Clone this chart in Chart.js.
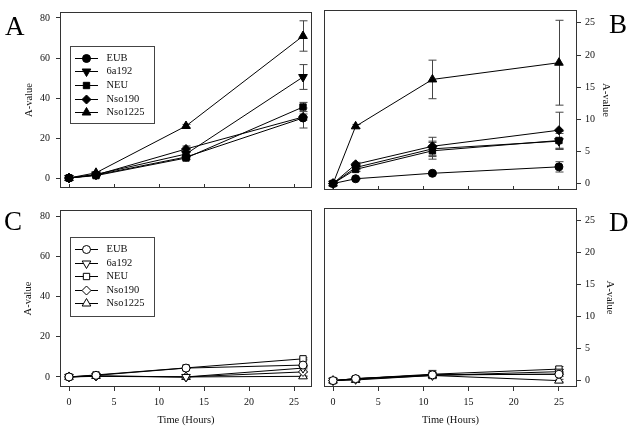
<!DOCTYPE html>
<html>
<head>
<meta charset="utf-8">
<script src="https://cdn.jsdelivr.net/npm/chart.js@4.4.0/dist/chart.umd.min.js"></script>
<style>
  body { margin: 0; background: #fff; }
  #wrap { position: relative; width: 632px; height: 429px; overflow: hidden; }
  #wrap canvas { position: absolute; }
  .tag { position: absolute; font: 27px/27px "Liberation Serif", "Times New Roman", serif; color: #000; }
</style>
</head>
<body>
<div id="wrap">
  <canvas id="cA" width="316" height="200" style="left:0;top:0"></canvas>
  <canvas id="cB" width="312" height="200" style="left:320px;top:0"></canvas>
  <canvas id="cC" width="316" height="231" style="left:0;top:198px"></canvas>
  <canvas id="cD" width="312" height="231" style="left:320px;top:198px"></canvas>
  <div class="tag" style="left:5px;top:13px">A</div>
  <div class="tag" style="left:609px;top:11px">B</div>
  <div class="tag" style="left:4px;top:208px">C</div>
  <div class="tag" style="left:609px;top:209px">D</div>
</div>
<script>
const seriesNames = ['EUB', '6a192', 'NEU', 'Nso190', 'Nso1225'];
const hoursAC = [0, 3, 13, 26];
const hoursBD = [0, 2.5, 11, 25];
const xTicks = [0, 5, 10, 15, 20, 25];
const yTicksAC = [0, 20, 40, 60, 80];
const yTicksBD = [0, 5, 10, 15, 20, 25];

// rows follow seriesNames
const valuesA = [
  [0, 1.5, 10.5, 30],
  [0, 1.8, 12, 50.5],
  [0, 1.2, 10, 35.5],
  [0, 1.5, 14.5, 30.5],
  [0, 2.6, 26, 71]
];
const errorsA = [
  [0, 0.4, 1, 5],
  [0, 0.3, 1, 6.2],
  [0, 0.3, 0.8, 2.3],
  [0, 0.3, 1.5, 1.5],
  [0, 0.5, 0.8, 7.6]
];
const valuesB = [
  [0, 0.75, 1.6, 2.6],
  [0, 2.5, 5.4, 6.6],
  [0, 2.2, 5.1, 6.7],
  [0, 3.0, 5.8, 8.3],
  [0, 8.9, 16.2, 18.8]
];
const errorsB = [
  [0, 0.1, 0.2, 0.8],
  [0, 0.3, 1.2, 1.2],
  [0, 0.3, 1.3, 1.4],
  [0, 0.3, 1.4, 2.8],
  [0, 0.3, 3.0, 6.6]
];
const valuesC = [
  [0, 0.8, 4.4, 5.9],
  [0, 0.5, 0, 4.4],
  [0, 1.0, 4.5, 9.0],
  [0, 0.3, 0, 2.5],
  [0, 0.5, 0, 0.3]
];
const errorsC = [
  [0, 0.3, 0.3, 0.5],
  [0, 0.3, 0, 0.4],
  [0, 0.3, 0.3, 0.5],
  [0, 0.2, 0, 0.3],
  [0, 0.2, 0, 0.2]
];
const valuesD = [
  [0, 0.3, 0.9, 1.0],
  [0, 0.2, 0.8, 1.4],
  [0, 0.3, 1.0, 1.8],
  [0, 0.3, 0.9, 1.0],
  [0, 0.1, 0.8, 0.0]
];
const errorsD = [
  [0, 0.1, 0.2, 0.3],
  [0, 0.1, 0.5, 0.3],
  [0, 0.1, 0.6, 0.4],
  [0, 0.1, 0.2, 0.3],
  [0, 0.1, 0.2, 0.2]
];

const markerStyle = ['circle', 'triangle', 'rect', 'rectRot', 'triangle'];
const markerRotation = [0, 180, 0, 0, 0];
const markerRadius = [4, 5, 4.5, 4.5, 5];

const serif = '"Liberation Serif", "Times New Roman", serif';
Chart.defaults.font.family = serif;
Chart.defaults.font.size = 10;
Chart.defaults.color = '#111';

// frame round the plot area + error bars under the markers
const framePlugin = {
  id: 'frame',
  beforeDatasetsDraw(chart) {
    const { ctx, chartArea: a } = chart;
    const xs = chart.scales.x, ys = chart.scales.y;
    ctx.save();
    ctx.strokeStyle = '#333';
    ctx.lineWidth = 1;
    ctx.strokeRect(a.left + 0.5, a.top + 0.5, a.right - a.left - 1, a.bottom - a.top - 1);
    ctx.strokeStyle = '#444';
    chart.data.datasets.forEach(ds => {
      (ds.errors || []).forEach((e, i) => {
        if (!e) return;
        const p = ds.data[i];
        const px = Math.round(xs.getPixelForValue(p.x)) + 0.5;
        const t = ys.getPixelForValue(p.y + e);
        const b = ys.getPixelForValue(p.y - e);
        ctx.beginPath();
        ctx.moveTo(px, t); ctx.lineTo(px, b);
        ctx.moveTo(px - 4, t); ctx.lineTo(px + 4, t);
        ctx.moveTo(px - 4, b); ctx.lineTo(px + 4, b);
        ctx.stroke();
      });
    });
    ctx.restore();
  }
};

// boxed legend inside the plot, line + marker samples
const boxLegend = {
  id: 'boxLegend',
  afterDatasetsDraw(chart, args, opts) {
    if (!opts.show) return;
    const { ctx, chartArea: a } = chart;
    const x0 = a.left + opts.dx, y0 = a.top + opts.dy;
    ctx.save();
    ctx.fillStyle = '#fff';
    ctx.fillRect(x0, y0, opts.w, opts.h);
    ctx.strokeStyle = '#444';
    ctx.lineWidth = 1;
    ctx.strokeRect(x0 + 0.5, y0 + 0.5, opts.w, opts.h);
    ctx.font = '10.5px ' + serif;
    ctx.textBaseline = 'middle';
    chart.data.datasets.forEach((ds, i) => {
      const cy = Math.round(y0 + opts.first + i * opts.step) + 0.5;
      ctx.strokeStyle = '#000';
      ctx.beginPath();
      ctx.moveTo(x0 + 5, cy); ctx.lineTo(x0 + 28, cy);
      ctx.stroke();
      ctx.fillStyle = ds.pointBackgroundColor;
      ctx.strokeStyle = ds.pointBorderColor;
      Chart.helpers.drawPoint(ctx, {
        pointStyle: ds.pointStyle, rotation: ds.pointRotation,
        radius: ds.pointRadius, borderWidth: 1
      }, x0 + 16.5, cy);
      ctx.fillStyle = '#111';
      ctx.fillText(ds.label, x0 + 36.5, cy);
    });
    ctx.restore();
  }
};

function makePanel(id, hours, values, errors, o) {
  const datasets = seriesNames.map((name, i) => ({
    label: name,
    data: hours.map((h, j) => ({ x: h, y: values[i][j] })),
    errors: errors[i],
    borderColor: '#000',
    borderWidth: 1,
    pointStyle: markerStyle[i],
    pointRotation: markerRotation[i],
    pointRadius: markerRadius[i],
    pointBackgroundColor: o.filled ? '#000' : '#fff',
    pointBorderColor: '#000',
    pointBorderWidth: 1,
    tension: 0,
    clip: false
  }));

  new Chart(document.getElementById(id), {
    type: 'line',
    data: { datasets },
    options: {
      responsive: false,
      animation: false,
      events: [],
      layout: { padding: o.padding, autoPadding: false },
      plugins: {
        legend: { display: false },
        tooltip: { enabled: false },
        boxLegend: o.legend || { show: false }
      },
      scales: {
        x: {
          type: 'linear',
          min: -1, max: 27,
          afterBuildTicks: s => { s.ticks = xTicks.map(v => ({ value: v })); },
          afterFit: s => { s.height = o.xh; },
          ticks: { display: o.xLabels, padding: 5, maxRotation: 0 },
          grid: { drawOnChartArea: false, tickLength: o.xLabels ? 4 : -4, color: '#333' },
          border: { display: false },
          title: {
            display: o.xLabels, text: 'Time (Hours)', color: '#111',
            font: { size: 10.5 }, padding: { top: 0, bottom: 2 }
          }
        },
        y: {
          type: 'linear',
          position: o.yPos,
          min: o.yMin, max: o.yMax,
          afterBuildTicks: s => { s.ticks = o.yTicks.map(v => ({ value: v })); },
          afterFit: s => { s.width = o.yw; },
          ticks: { padding: o.yPos === 'left' ? 6 : 4 },
          grid: { drawOnChartArea: false, tickLength: 4, color: '#333' },
          border: { display: false },
          title: {
            display: true, text: 'A-value', color: '#111',
            font: { size: 10.5 }, padding: { top: o.titlePad, bottom: 0 }
          }
        }
      }
    },
    plugins: [framePlugin, boxLegend]
  });
}

makePanel('cA', hoursAC, valuesA, errorsA, {
  filled: true, xLabels: false, xh: 2, yw: 60, yPos: 'left',
  yMin: -5, yMax: 83, yTicks: yTicksAC, titlePad: 22.5,
  padding: { top: 10, right: 4, left: 0, bottom: 0 },
  legend: { show: true, dx: 10, dy: 34, w: 84, h: 77, first: 11.7, step: 13.6 }
});
makePanel('cB', hoursBD, valuesB, errorsB, {
  filled: true, xLabels: false, xh: 2, yw: 55, yPos: 'right',
  yMin: -1, yMax: 27, yTicks: yTicksBD, titlePad: 20,
  padding: { top: 10, right: 0, left: 4, bottom: 0 }
});
makePanel('cC', hoursAC, valuesC, errorsC, {
  filled: false, xLabels: true, xh: 42, yw: 60, yPos: 'left',
  yMin: -5, yMax: 83, yTicks: yTicksAC, titlePad: 22,
  padding: { top: 0, right: 4, left: 0, bottom: 0 },
  legend: { show: true, dx: 10, dy: 27, w: 84, h: 79, first: 12.3, step: 13.4 }
});
makePanel('cD', hoursBD, valuesD, errorsD, {
  filled: false, xLabels: true, xh: 42, yw: 55, yPos: 'right',
  yMin: -1, yMax: 27, yTicks: yTicksBD, titlePad: 16,
  padding: { top: 0, right: 0, left: 4, bottom: 0 }
});
</script>
</body>
</html>
